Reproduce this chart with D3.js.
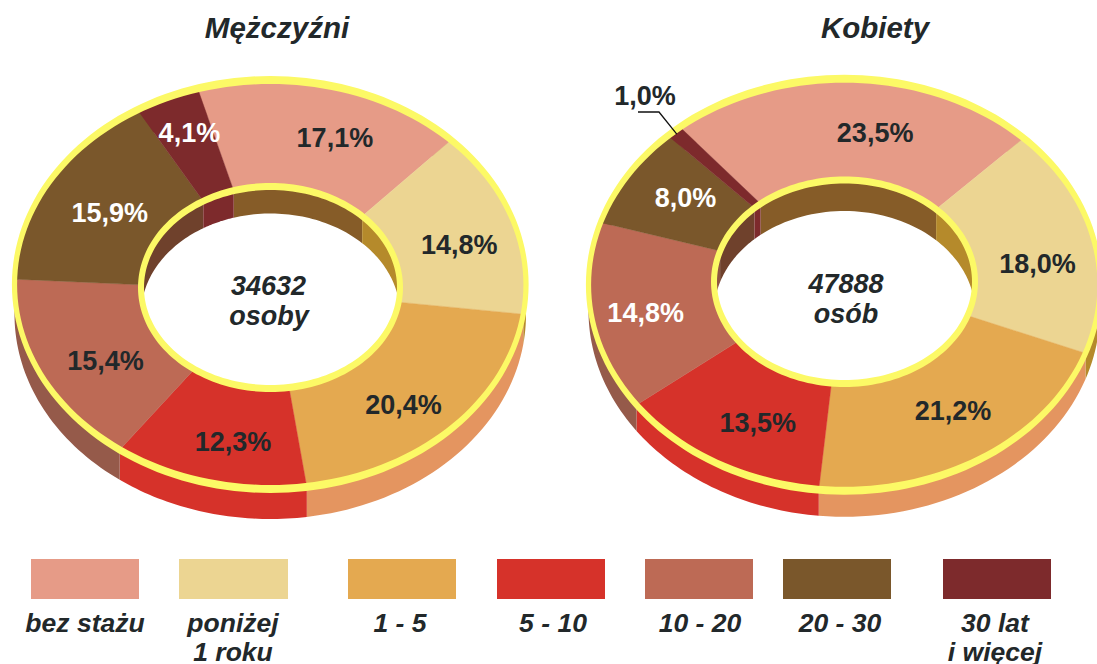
<!DOCTYPE html>
<html><head><meta charset="utf-8">
<script src="https://cdn.jsdelivr.net/npm/d3@7"></script>
<style>html,body{margin:0;background:#fff;overflow:hidden}svg{display:block}text{font-family:"Liberation Sans",Arial,sans-serif;font-weight:bold;font-style:italic;fill:#22282a}</style>
</head><body>
<script>
const categories=["bez stażu","poniżej|1 roku","1 - 5","5 - 10","10 - 20","20 - 30","30 lat|i więcej"];
const topColors=["#e69b87","#ecd592","#e4a950","#d6322a","#bd6a55","#7a572b","#7d2a2c"];
const sideColors=["#b87c6c","#b58a2b","#e49560","#d6322a","#955a4a","#6f412c","#7d2a2c"];
const wallColors=["#865c28","#b58a2b","#c08c3a","#d6322a","#8f5543","#6f412c","#7d2a2c"];
const menValues=[17.1,14.8,20.4,12.3,15.4,15.9,4.1];
const womenValues=[23.5,18.0,21.2,13.5,14.8,8.0,1.0];
const menLabelColors=["d","d","d","d","d","w","w"];
const womenLabelColors=["d","d","d","d","w","w","n"];
const menOffsets=[[17,0],[6,7],[-3,11],[9,8],[8,8],[6,4],[-3,-13]];
const womenOffsets=[[23,4],[5,15],[5,-2],[10,7],[-8,6],[5,-4],[0,0]];
const legendX=[31,179,348,497,645,783,943];
const legendW=[108,109,108,108,108,108,108];
const legendTextX=[85,233,400,553,700,840,995];

const W=1097,H=664,YEL="#fcf966";
const svg=d3.select("body").append("svg").attr("width",W).attr("height",H);
svg.append("rect").attr("width",W).attr("height",H).attr("fill","#fff");
const fmt=v=>v.toFixed(1).replace(".",",")+"%";
const line=d3.line();

function donut(cfg){
  const {id,O,I,outerDepth,wallDepth,values,startDeg,labelColors,offsets,title,titleX,center}=cfg;
  const g=svg.append("g");
  const start=startDeg*Math.PI/180;
  const arcs=d3.pie().sort(null).startAngle(start).endAngle(start+2*Math.PI)(values);
  const pt=(E,a,dy=0)=>[E.cx+E.rx*Math.sin(a),E.cy-E.ry*Math.cos(a)+dy];
  const samples=(s,e,n=40)=>d3.range(0,n+1).map(i=>s+(e-s)*i/n);
  const band=(E,d,depth)=>{const a=samples(d.startAngle,d.endAngle);
    return line([...a.map(t=>pt(E,t)),...a.slice().reverse().map(t=>pt(E,t,depth))])+"Z";};
  g.selectAll(".side").data(arcs).join("path").attr("d",d=>band(O,d,outerDepth)).attr("fill",(d,i)=>sideColors[i]);
  g.selectAll(".top").data(arcs).join("path").attr("d",d=>{const a=samples(d.startAngle,d.endAngle);
      return line([...a.map(t=>pt(O,t)),...a.slice().reverse().map(t=>pt(I,t))])+"Z";})
    .attr("fill",(d,i)=>topColors[i]).attr("stroke",(d,i)=>topColors[i]).attr("stroke-width",.4);
  g.append("ellipse").attr("cx",I.cx).attr("cy",I.cy).attr("rx",I.rx).attr("ry",I.ry).attr("fill","#fff");
  const clip=svg.append("clipPath").attr("id","hole"+id);
  clip.append("ellipse").attr("cx",I.cx).attr("cy",I.cy).attr("rx",I.rx).attr("ry",I.ry);
  const wall=g.append("g").attr("clip-path",`url(#hole${id})`);
  wall.selectAll("path").data(arcs).join("path").attr("d",d=>band(I,d,wallDepth)).attr("fill",(d,i)=>wallColors[i]);
  const ringPath=(E,hx,hy)=>{
    const loop=(rx,ry)=>line(samples(0,2*Math.PI,180).map(t=>pt({cx:E.cx,cy:E.cy,rx,ry},t)))+"Z";
    return loop(E.rx+hx,E.ry+hy)+loop(E.rx-hx,E.ry-hy);};
  g.append("path").attr("d",ringPath(O,2.6,4)).attr("fill",YEL).attr("fill-rule","evenodd");
  g.append("path").attr("d",ringPath(I,3,3.5)).attr("fill",YEL).attr("fill-rule","evenodd");
  arcs.forEach((d,i)=>{
    if(labelColors[i]==="n")return;
    const m=(d.startAngle+d.endAngle)/2,p=pt(O,m),q=pt(I,m);
    g.append("text").attr("x",(p[0]+q[0])/2+offsets[i][0]).attr("y",(p[1]+q[1])/2+offsets[i][1]+9)
      .attr("text-anchor","middle").attr("font-size",27).style("font-style","normal")
      .style("fill",labelColors[i]==="w"?"#fff":"#22282a").text(fmt(values[i]));
  });
  g.append("text").attr("x",titleX).attr("y",38).attr("text-anchor","middle").attr("font-size",29.5).text(title);
  center.forEach(c=>g.append("text").attr("x",c.x).attr("y",c.y).attr("text-anchor","middle").attr("font-size",27).text(c.t));
  return {arcs,pt,O,g};
}
donut({id:"m",O:{cx:270.25,cy:284.5,rx:255.75,ry:204.5},I:{cx:270.5,cy:287.5,rx:129.5,ry:101},outerDepth:30,wallDepth:27,
  values:menValues,startDeg:-16.5,labelColors:menLabelColors,offsets:menOffsets,title:"Mężczyźni",titleX:277,
  center:[{x:268.5,y:295,t:"34632"},{x:269,y:325,t:"osoby"}]});
const w=donut({id:"k",O:{cx:844.25,cy:284.75,rx:255.75,ry:206},I:{cx:844.5,cy:281.75,rx:130.5,ry:101.75},outerDepth:26,wallDepth:31,
  values:womenValues,startDeg:-40,labelColors:womenLabelColors,offsets:womenOffsets,title:"Kobiety",titleX:875,
  center:[{x:846,y:293,t:"47888"},{x:846,y:323,t:"osób"}]});
const last=w.arcs[6];const tip=w.pt(w.O,(last.startAngle+last.endAngle)/2);
w.g.append("path").attr("d",line([[638,112],[659,112],[tip[0]+3,tip[1]+3]])).attr("fill","none").attr("stroke","#111").attr("stroke-width",1.3);
w.g.append("text").attr("x",645).attr("y",105).attr("text-anchor","middle").attr("font-size",27).style("font-style","normal").text(fmt(womenValues[6]));
const lg=svg.append("g");
categories.forEach((c,i)=>{
  lg.append("rect").attr("x",legendX[i]).attr("y",559).attr("width",legendW[i]).attr("height",40).attr("fill",topColors[i]);
  c.split("|").forEach((t,j)=>lg.append("text").attr("x",legendTextX[i]).attr("y",632+j*29).attr("text-anchor","middle").attr("font-size",26.5).text(t));
});
</script></body></html>
